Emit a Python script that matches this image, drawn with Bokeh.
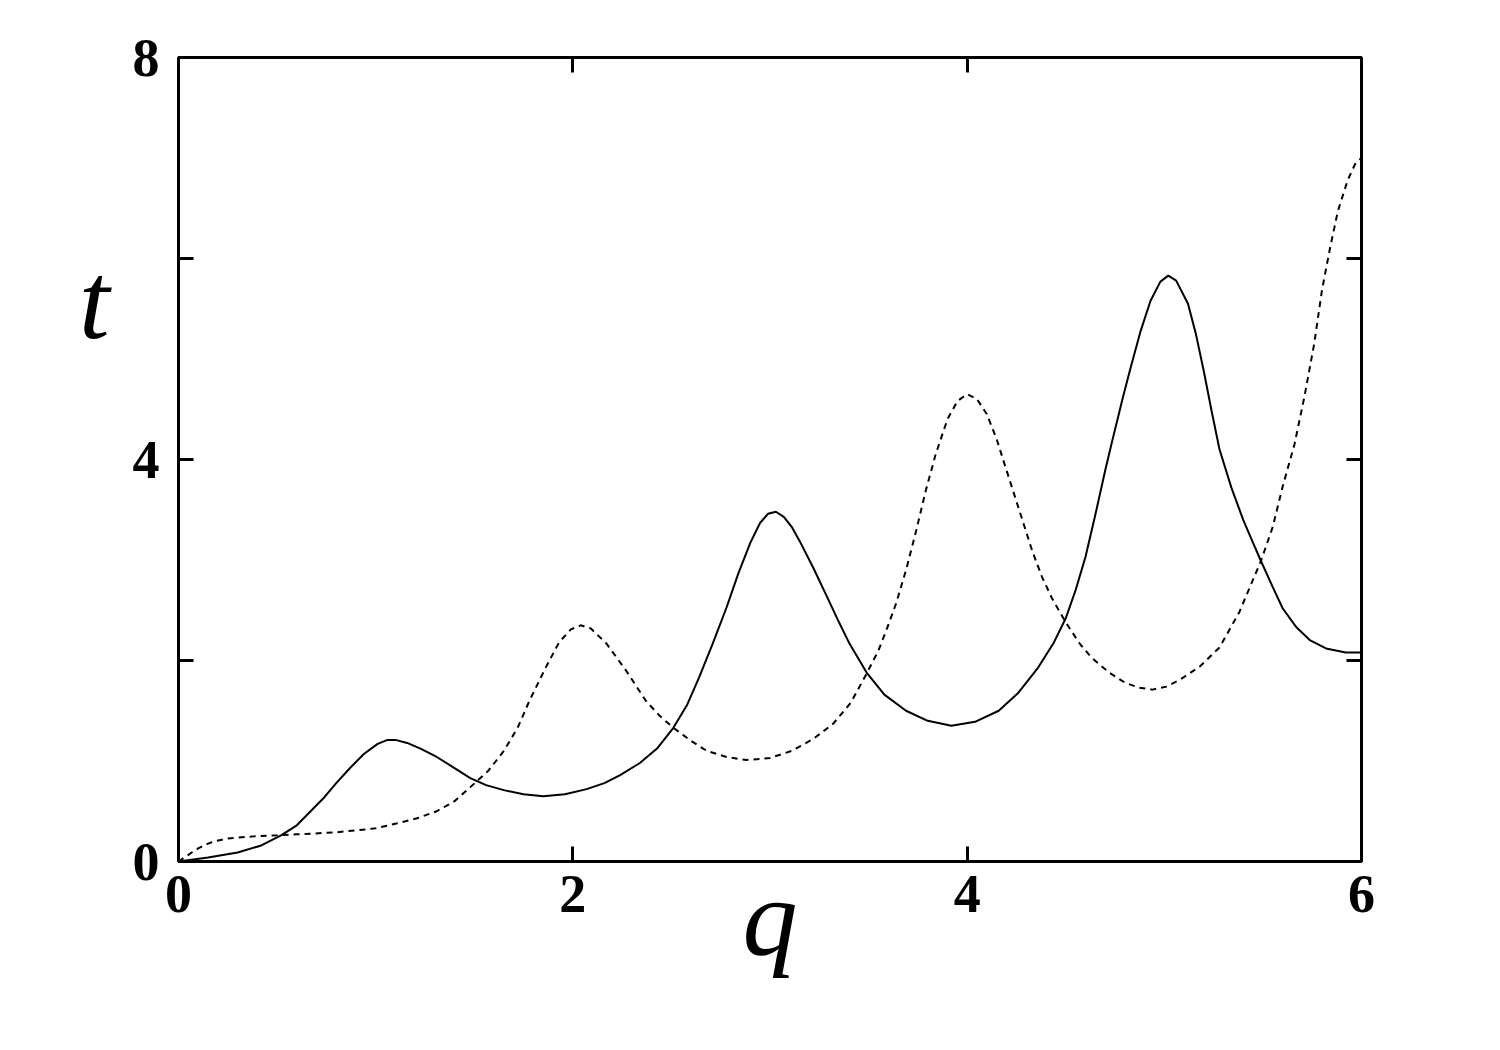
from bokeh.plotting import figure
from bokeh.models import FixedTicker, LinearAxis, Range1d, CustomJSTickFormatter
from bokeh.embed import file_html
from bokeh.resources import INLINE

# solid curve (q, t)
solid_q = [0.00, 0.15, 0.30, 0.42, 0.52, 0.60, 0.67, 0.74, 0.80, 0.87, 0.94, 1.01, 1.06, 1.10,
           1.16, 1.23, 1.31, 1.40, 1.48, 1.56, 1.65, 1.75, 1.85, 1.96, 2.07, 2.16, 2.24, 2.34,
           2.43, 2.51, 2.58, 2.64, 2.71, 2.78, 2.84, 2.90, 2.95, 2.99, 3.03, 3.07, 3.11, 3.15,
           3.22, 3.29, 3.35, 3.40, 3.49, 3.58, 3.69, 3.80, 3.92, 4.04, 4.16, 4.26, 4.36, 4.44,
           4.50, 4.55, 4.60, 4.65, 4.70, 4.74, 4.79, 4.83, 4.88, 4.93, 4.98, 5.02, 5.06, 5.12,
           5.16, 5.20, 5.24, 5.28, 5.34, 5.40, 5.45, 5.49, 5.55, 5.60, 5.67, 5.74, 5.82, 5.92, 6.00]
solid_t = [0.00, 0.04, 0.09, 0.16, 0.26, 0.36, 0.50, 0.64, 0.78, 0.93, 1.07, 1.17, 1.21, 1.21,
           1.18, 1.12, 1.04, 0.93, 0.83, 0.76, 0.71, 0.67, 0.65, 0.67, 0.72, 0.78, 0.86, 0.98,
           1.13, 1.33, 1.56, 1.83, 2.17, 2.53, 2.87, 3.17, 3.37, 3.46, 3.48, 3.43, 3.33, 3.19,
           2.92, 2.63, 2.38, 2.18, 1.88, 1.66, 1.50, 1.40, 1.35, 1.39, 1.50, 1.68, 1.93, 2.18,
           2.42, 2.70, 3.03, 3.45, 3.89, 4.22, 4.62, 4.92, 5.28, 5.58, 5.77, 5.83, 5.78, 5.55,
           5.25, 4.88, 4.48, 4.10, 3.72, 3.40, 3.17, 2.99, 2.73, 2.52, 2.33, 2.20, 2.12, 2.08, 2.08]

# dashed curve (q, t)
dashed_q = [0.00, 0.03, 0.06, 0.10, 0.14, 0.18, 0.25, 0.38, 0.50, 0.60, 0.80, 1.00, 1.11, 1.21,
            1.31, 1.40, 1.48, 1.57, 1.65, 1.72, 1.78, 1.86, 1.93, 1.99, 2.04, 2.09, 2.17, 2.27,
            2.37, 2.44, 2.51, 2.60, 2.68, 2.78, 2.88, 3.00, 3.11, 3.22, 3.32, 3.41, 3.49, 3.55,
            3.59, 3.64, 3.69, 3.74, 3.79, 3.84, 3.90, 3.95, 4.00, 4.05, 4.10, 4.15, 4.20, 4.27,
            4.33, 4.38, 4.43, 4.50, 4.57, 4.63, 4.72, 4.80, 4.87, 4.94, 5.01, 5.08, 5.18, 5.28,
            5.38, 5.49, 5.55, 5.60, 5.66, 5.71, 5.76, 5.80, 5.84, 5.88, 5.93, 5.97, 6.00]
dashed_t = [0.00, 0.04, 0.08, 0.13, 0.17, 0.20, 0.23, 0.25, 0.26, 0.27, 0.29, 0.33, 0.38, 0.43,
            0.50, 0.60, 0.74, 0.90, 1.10, 1.33, 1.60, 1.92, 2.18, 2.31, 2.35, 2.32, 2.17, 1.90,
            1.60, 1.45, 1.33, 1.20, 1.10, 1.04, 1.01, 1.03, 1.10, 1.22, 1.37, 1.58, 1.87, 2.10,
            2.30, 2.57, 2.90, 3.28, 3.69, 4.05, 4.40, 4.58, 4.65, 4.60, 4.45, 4.20, 3.89, 3.46,
            3.09, 2.83, 2.62, 2.38, 2.17, 2.03, 1.88, 1.78, 1.73, 1.71, 1.74, 1.81, 1.94, 2.13,
            2.48, 2.99, 3.33, 3.73, 4.15, 4.62, 5.15, 5.69, 6.10, 6.47, 6.78, 6.95, 7.00]

x_tick_labels = [0, 2, 4, 6]
x_inner_ticks = [2, 4]
y_tick_labels = [0, 4, 8]
y_inner_ticks = [2, 4, 6]
x_name = "q"
y_name = "t"
Y_NAME_LEVEL = 5.58   # height at which the y-axis name sits beside the axis

FONT = "Liberation Serif"

p = figure(width=1480, height=1030, output_backend="svg", toolbar_location=None,
           x_range=Range1d(0, 6), y_range=Range1d(0, 8),
           x_axis_location=None, y_axis_location=None,
           min_border_left=178, min_border_right=119, min_border_top=57, min_border_bottom=169)
p.grid.visible = False
p.background_fill_color = "white"
p.border_fill_color = "white"
p.outline_line_color = "black"
p.outline_line_width = 3

blank = CustomJSTickFormatter(code="return '';")


def make_axis(major, minor):
    ax = LinearAxis(ticker=FixedTicker(ticks=major, minor_ticks=minor))
    ax.axis_line_color = None
    ax.major_tick_in = 15
    ax.major_tick_out = 0
    ax.minor_tick_in = 15
    ax.minor_tick_out = 0
    ax.major_tick_line_width = 3
    ax.minor_tick_line_width = 3
    ax.major_tick_line_color = "black"
    ax.minor_tick_line_color = "black"
    ax.major_label_text_font = FONT
    ax.major_label_text_font_style = "bold"
    ax.major_label_text_font_size = "54px"
    ax.major_label_text_color = "black"
    return ax


left = make_axis(y_tick_labels, [v for v in y_inner_ticks if v not in y_tick_labels])
left.major_label_standoff = 19
p.add_layout(left, "left")

# outer left axis carrying only the axis name, level with the upper part of the axis
name_axis = LinearAxis(ticker=FixedTicker(ticks=[Y_NAME_LEVEL], minor_ticks=[]))
name_axis.major_label_overrides = {Y_NAME_LEVEL: y_name}
name_axis.axis_line_color = None
name_axis.major_tick_line_color = None
name_axis.minor_tick_line_color = None
name_axis.major_tick_in = 0
name_axis.major_tick_out = 0
name_axis.minor_tick_in = 0
name_axis.minor_tick_out = 0
name_axis.major_label_standoff = 20
name_axis.major_label_text_font = FONT
name_axis.major_label_text_font_style = "italic"
name_axis.major_label_text_font_size = "110px"
name_axis.major_label_text_color = "black"
p.add_layout(name_axis, "left")

top = make_axis(x_inner_ticks, [])
top.formatter = blank
top.major_label_text_font_size = "1px"
p.add_layout(top, "above")

right = make_axis(y_inner_ticks, [])
right.formatter = blank
right.major_label_text_font_size = "1px"
p.add_layout(right, "right")

bottom = make_axis(x_tick_labels, [v for v in x_inner_ticks if v not in x_tick_labels])
bottom.major_label_standoff = 14
bottom.axis_label = x_name
bottom.axis_label_text_font = FONT
bottom.axis_label_text_font_style = "italic"
bottom.axis_label_text_font_size = "110px"
bottom.axis_label_text_color = "black"
bottom.axis_label_standoff = -58
p.add_layout(bottom, "below")

p.line(solid_q, solid_t, line_color="black", line_width=2)
p.line(dashed_q, dashed_t, line_color="black", line_width=2, line_dash="6 5")

open("out.html", "w").write(file_html(p, INLINE))
